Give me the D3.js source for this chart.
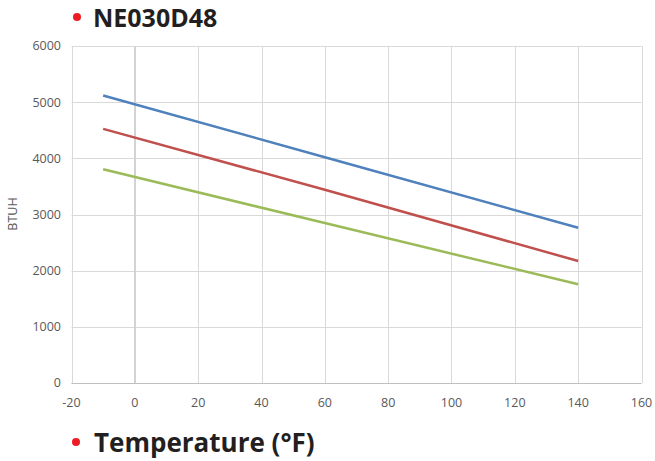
<!DOCTYPE html>
<html>
<head>
<meta charset="utf-8">
<script src="https://cdn.jsdelivr.net/npm/d3@7"></script>
<style>
  body { margin: 0; background: #fff; }
</style>
</head>
<body>
<div id="chart"></div>
<script>
// temperatures (deg F)
var temps = [-10, 60, 140];
// BTUH per series
var blueVals = [5120, 4020, 2765];
var redVals = [4525, 3440, 2172];
var greenVals = [3805, 2848, 1758];

var xTicks = [-20, 0, 20, 40, 60, 80, 100, 120, 140, 160];
var yTicks = [0, 1000, 2000, 3000, 4000, 5000, 6000];

var seriesList = [
    {name: "blue", values: blueVals, color: "#4f81bd"},
    {name: "red", values: redVals, color: "#c0504d"},
    {name: "green", values: greenVals, color: "#9bbb59"}
];

function init ()
{
    var w = 655;
    var h = 461;
    var left = 71.5, right = 641.5, top = 46, bottom = 383;
    var tickFont = "'Open Sans', sans-serif";

    var svg = d3.select("#chart")
        .append("svg")
        .attr("width", w)
        .attr("height", h);

    var x = d3.scaleLinear().domain([-20, 160]).range([left, right]);
    var y = d3.scaleLinear().domain([0, 6000]).range([bottom, top]);

    // gridlines
    svg.selectAll(".hgrid")
        .data(yTicks)
        .enter()
        .append("line")
        .attr("x1", left).attr("x2", right)
        .attr("y1", function(d){ return Math.round(y(d)) + 0.5; })
        .attr("y2", function(d){ return Math.round(y(d)) + 0.5; })
        .style("stroke", "#d9d9d9")
        .style("stroke-width", 1);

    svg.selectAll(".vgrid")
        .data(xTicks)
        .enter()
        .append("line")
        .attr("x1", function(d){ return Math.round(x(d)) + 0.5; })
        .attr("x2", function(d){ return Math.round(x(d)) + 0.5; })
        .attr("y1", top).attr("y2", bottom)
        .style("stroke", "#d9d9d9")
        .style("stroke-width", 1);

    // axis lines (vertical axis crosses at 0)
    svg.append("line")
        .attr("x1", left).attr("x2", right)
        .attr("y1", Math.round(y(0)) + 0.5).attr("y2", Math.round(y(0)) + 0.5)
        .style("stroke", "#bfbfbf");
    svg.append("line")
        .attr("x1", x(0)).attr("x2", x(0))
        .attr("y1", top).attr("y2", bottom)
        .style("stroke", "#cfcfcf")
        .style("stroke-width", 1.5);

    // tick labels
    svg.selectAll(".ylab")
        .data(yTicks)
        .enter()
        .append("text")
        .attr("x", 61)
        .attr("y", function(d){ return y(d); })
        .attr("dy", "0.35em")
        .attr("text-anchor", "end")
        .style("font-family", tickFont)
        .style("font-size", "12.5px")
        .style("fill", "#595959")
        .text(function(d){ return d; });

    svg.selectAll(".xlab")
        .data(xTicks)
        .enter()
        .append("text")
        .attr("x", function(d){ return x(d); })
        .attr("y", 402.5)
        .attr("dy", "0.35em")
        .attr("text-anchor", "middle")
        .style("font-family", tickFont)
        .style("font-size", "12.5px")
        .style("fill", "#595959")
        .text(function(d){ return d; });

    // y title
    svg.append("text")
        .attr("transform", "translate(13,214) rotate(-90)")
        .attr("text-anchor", "middle")
        .attr("dy", "0.35em")
        .style("font-family", tickFont)
        .style("font-size", "12.5px")
        .style("fill", "#595959")
        .text("BTUH");

    // lines
    var line = d3.line()
        .x(function(d, i){ return x(temps[i]); })
        .y(function(d){ return y(d); });

    svg.selectAll(".series")
        .data(seriesList)
        .enter()
        .append("path")
        .attr("d", function(d){ return line(d.values); })
        .style("fill", "none")
        .style("stroke", function(d){ return d.color; })
        .style("stroke-width", 2.5);

    // headings with red bullets
    svg.append("circle").attr("cx", 77).attr("cy", 17).attr("r", 4).style("fill", "#ed1c24");
    svg.append("text")
        .attr("x", 93).attr("y", 27)
        .style("font-family", "'Open Sans', sans-serif")
        .style("font-weight", "bold")
        .style("font-size", "25px")
        .style("fill", "#231f20")
        .text("NE030D48");

    svg.append("circle").attr("cx", 76).attr("cy", 442).attr("r", 4).style("fill", "#ed1c24");
    svg.append("text")
        .attr("x", 94).attr("y", 451.5)
        .style("font-family", "'Open Sans', sans-serif")
        .style("font-weight", "bold")
        .style("font-size", "26px")
        .style("fill", "#231f20")
        .text("Temperature (°F)");
}

window.onload = init;
</script>
</body>
</html>
